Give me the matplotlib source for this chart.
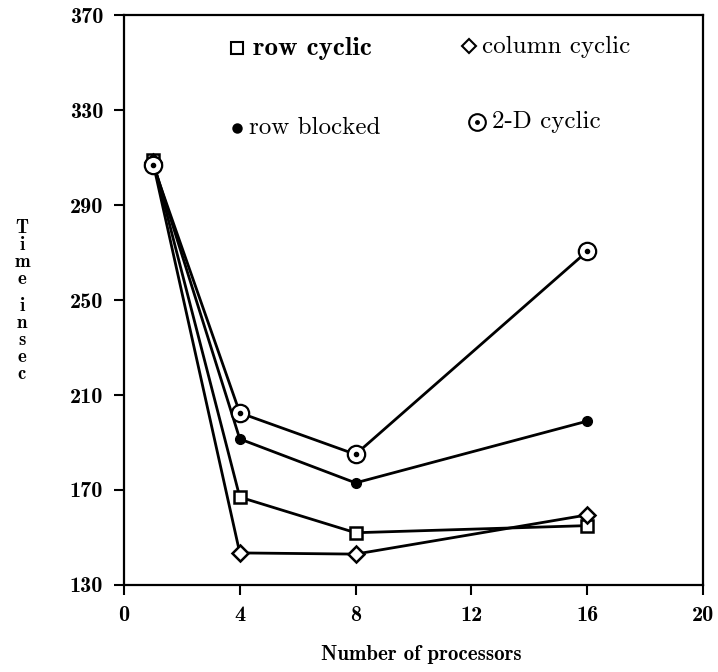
import numpy as np
import matplotlib.pyplot as plt

# Données
procs = [1, 4, 8, 16]
row_cyclic = [309, 167, 152, 155]
column_cyclic = [308, 143.5, 143, 159.5]
row_blocked = [308, 191.5, 173, 199]
cyclic_2d = [307, 202.5, 185, 270.5]

xticks = [0, 4, 8, 12, 16, 20]
yticks = [130, 170, 210, 250, 290, 330, 370]

fig = plt.figure(figsize=(7.18, 6.72), dpi=100)
ax = fig.add_axes([0.1727, 0.1295, 0.8063, 0.848])

lw = 2
ax.plot(procs, row_cyclic, color='black', lw=lw, marker='s', ms=9,
        mfc='white', mec='black', mew=1.8, zorder=3)
ax.plot(procs, column_cyclic, color='black', lw=lw, marker='D', ms=8,
        mfc='white', mec='black', mew=1.8, zorder=3)
ax.plot(procs, row_blocked, color='black', lw=lw, marker='o', ms=7,
        mfc='black', mec='black', zorder=3)
ax.plot(procs, cyclic_2d, color='black', lw=lw, marker='o', ms=12.5,
        mfc='white', mec='black', mew=1.6, zorder=3)
ax.plot(procs, cyclic_2d, ls='none', marker='o', ms=3, color='black', zorder=4)

ax.set_xlim(0, 20)
ax.set_ylim(130, 370)
ax.set_xticks(xticks)
ax.set_yticks(yticks)
ax.tick_params(direction='out', length=7, width=1.5, pad=8)
for lab in ax.get_xticklabels() + ax.get_yticklabels():
    lab.set_family('cmb10')
    lab.set_fontsize(16)
for s in ax.spines.values():
    s.set_linewidth(1.6)

# Légende dans le graphique
def entry(mx, my, tx, marker, ms, fill, text, fam, fs):
    ax.plot([mx], [my], transform=ax.transAxes, marker=marker, ms=ms,
            mfc=fill, mec='black', mew=1.5, ls='none', clip_on=False)
    if marker == 'o' and fill == 'white':
        ax.plot([mx], [my], transform=ax.transAxes, marker='o', ms=2.5,
                color='black', ls='none')
    ax.text(tx, my, text, transform=ax.transAxes, family=fam,
            fontsize=fs, va='center', ha='left')

entry(0.195, 0.942, 0.222, 's', 9, 'white', 'row cyclic', 'cmb10', 19.5)
entry(0.596, 0.945, 0.618, 'D', 7, 'white', 'column cyclic', 'cmr10', 18)
entry(0.195, 0.802, 0.216, 'o', 6, 'black', 'row blocked', 'cmr10', 18)
entry(0.609, 0.812, 0.636, 'o', 12, 'white', '2-D cyclic', 'cmr10', 18)

fig.text(421 / 718, 1 - 655 / 672, 'Number of processors', family='cmb10',
         fontsize=15, ha='center', va='center')

# Étiquette verticale, une lettre par ligne
letters = list('Timeinsec')
ypix = [228, 245, 262, 279, 306, 323, 340, 357, 374]
for ch, yp in zip(letters, ypix):
    fig.text(22 / 718, 1 - yp / 672, ch, family='cmb10', fontsize=13.5,
             ha='center', va='center')

fig.savefig('out.png', dpi=100)
